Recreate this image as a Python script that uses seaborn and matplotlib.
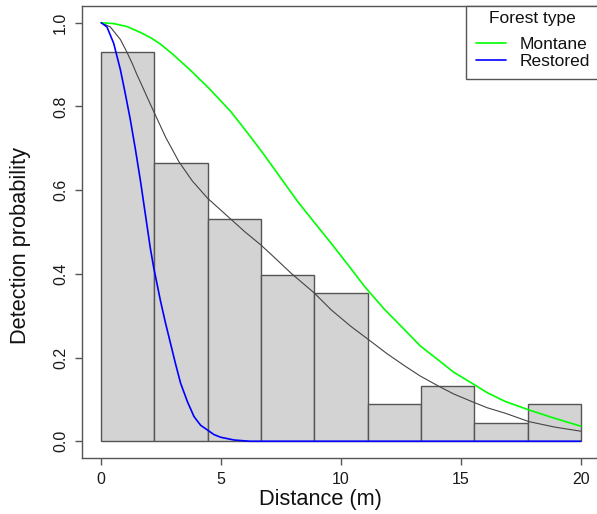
import matplotlib
matplotlib.use("Agg")
import matplotlib.pyplot as plt
import seaborn as sns

# histogram of scaled detections (9 bins over 0-20 m)
bin_edges = [0, 20/9, 40/9, 60/9, 80/9, 100/9, 120/9, 140/9, 160/9, 20]
bar_heights = [0.930, 0.665, 0.532, 0.398, 0.354, 0.088, 0.132, 0.044, 0.088]

# fitted detection functions
pooled_x = [0, 0.38, 0.8, 1.07, 1.3, 1.49, 1.7, 1.91, 2.19, 2.7, 3.24, 3.8, 4.43, 5.4, 6.0,
            6.66, 7.3, 7.91, 8.89, 9.59, 10.4, 11.26, 11.9, 12.66, 13.3, 14.06, 14.7, 15.45,
            16.1, 16.85, 17.83, 18.9, 20]
pooled_y = [1.0, 0.99, 0.96, 0.93, 0.902, 0.876, 0.85, 0.823, 0.788, 0.725, 0.668, 0.622, 0.581,
            0.531, 0.500, 0.469, 0.435, 0.402, 0.354, 0.314, 0.275, 0.238, 0.210, 0.180, 0.156,
            0.132, 0.113, 0.095, 0.080, 0.067, 0.047, 0.034, 0.024]

montane_x = [0, 0.52, 1.07, 1.63, 2.1, 2.47, 3.0, 3.73, 4.5, 5.4, 6.1, 6.8, 7.5, 8.19, 8.9,
             9.59, 10.3, 10.98, 11.8, 12.66, 13.3, 14.06, 14.7, 15.45, 16.1, 16.85, 17.83,
             18.9, 20]
montane_y = [1.0, 0.998, 0.991, 0.977, 0.963, 0.949, 0.924, 0.886, 0.843, 0.788, 0.737, 0.684,
             0.628, 0.573, 0.522, 0.473, 0.421, 0.370, 0.316, 0.266, 0.228, 0.194, 0.165, 0.139,
             0.116, 0.095, 0.075, 0.055, 0.036]

restored_x = [0, 0.24, 0.52, 0.8, 1.0, 1.21, 1.42, 1.63, 1.84, 2.05, 2.19, 2.47, 2.68, 2.89,
              3.1, 3.31, 3.6, 3.87, 4.15, 4.43, 4.7, 4.98, 5.54, 6.2, 20]
restored_y = [1.0, 0.99, 0.951, 0.888, 0.832, 0.77, 0.70, 0.625, 0.543, 0.461, 0.415, 0.336,
              0.283, 0.234, 0.185, 0.139, 0.094, 0.059, 0.038, 0.027, 0.016, 0.0096, 0.003,
              0.0, 0.0]

legend_title = "Forest type"

sns.set_style("white")
plt.rcParams['font.family'] = ['Liberation Sans', 'DejaVu Sans']

W, H = 597, 514
fig = plt.figure(figsize=(W / 100, H / 100), dpi=100)
ax = fig.add_axes([82 / W, (H - 458) / H, (600 - 82) / W, (458 - 6) / H])

mids = [(bin_edges[i] + bin_edges[i + 1]) / 2 for i in range(len(bar_heights))]
sns.histplot(x=mids, weights=bar_heights, bins=bin_edges, stat="count",
             color="#d3d3d3", alpha=1, edgecolor="#555555", linewidth=1.0, ax=ax)

sns.lineplot(x=pooled_x, y=pooled_y, color="#444444", linewidth=0.8,
             sort=False, estimator=None, ax=ax)
sns.lineplot(x=montane_x, y=montane_y, color="#00ff00", linewidth=1.2,
             sort=False, estimator=None, label="Montane", ax=ax)
sns.lineplot(x=restored_x, y=restored_y, color="#0000ff", linewidth=1.2,
             sort=False, estimator=None, label="Restored", ax=ax)

ax.set_xlim(-0.8, 20.8)
ax.set_ylim(-0.04, 1.04)
ax.set_xticks([0, 5, 10, 15, 20])
ax.set_yticks([0.0, 0.2, 0.4, 0.6, 0.8, 1.0])
ax.set_yticklabels(["0.0", "0.2", "0.4", "0.6", "0.8", "1.0"], rotation=90, va="center")
ax.tick_params(axis="both", direction="out", length=5, width=1.0, color="#555555",
               labelsize=11.5, pad=5, left=True, bottom=True, labelcolor="#1a1a1a")

for s in ax.spines.values():
    s.set_color("#555555")
    s.set_linewidth(1.0)

ax.set_xlabel("Distance (m)", fontsize=15.7, color="#111111")
ax.set_ylabel("Detection probability", fontsize=15.7, color="#111111")
ax.xaxis.set_label_coords((320 - 82) / 518, -(489 - 458) / 452)
ax.yaxis.set_label_coords(-(82 - 31) / 518, (458 - 246) / 452)

leg = ax.legend(title=legend_title, loc="upper right", bbox_to_anchor=(1.0, 1.0),
                borderaxespad=0, fancybox=False, fontsize=12.5, title_fontsize=12.5,
                handlelength=1.72, handletextpad=0.8, labelspacing=0.1,
                borderpad=0.3, framealpha=1)
leg.get_frame().set_edgecolor("#555555")
leg.get_frame().set_linewidth(1.0)
leg._legend_handle_box.pad = 3.5
leg._legend_box.sep = 4.0
for t in leg.get_texts():
    t.set_color("#111111")
leg.get_title().set_color("#111111")

fig.savefig("out.png", dpi=100)
